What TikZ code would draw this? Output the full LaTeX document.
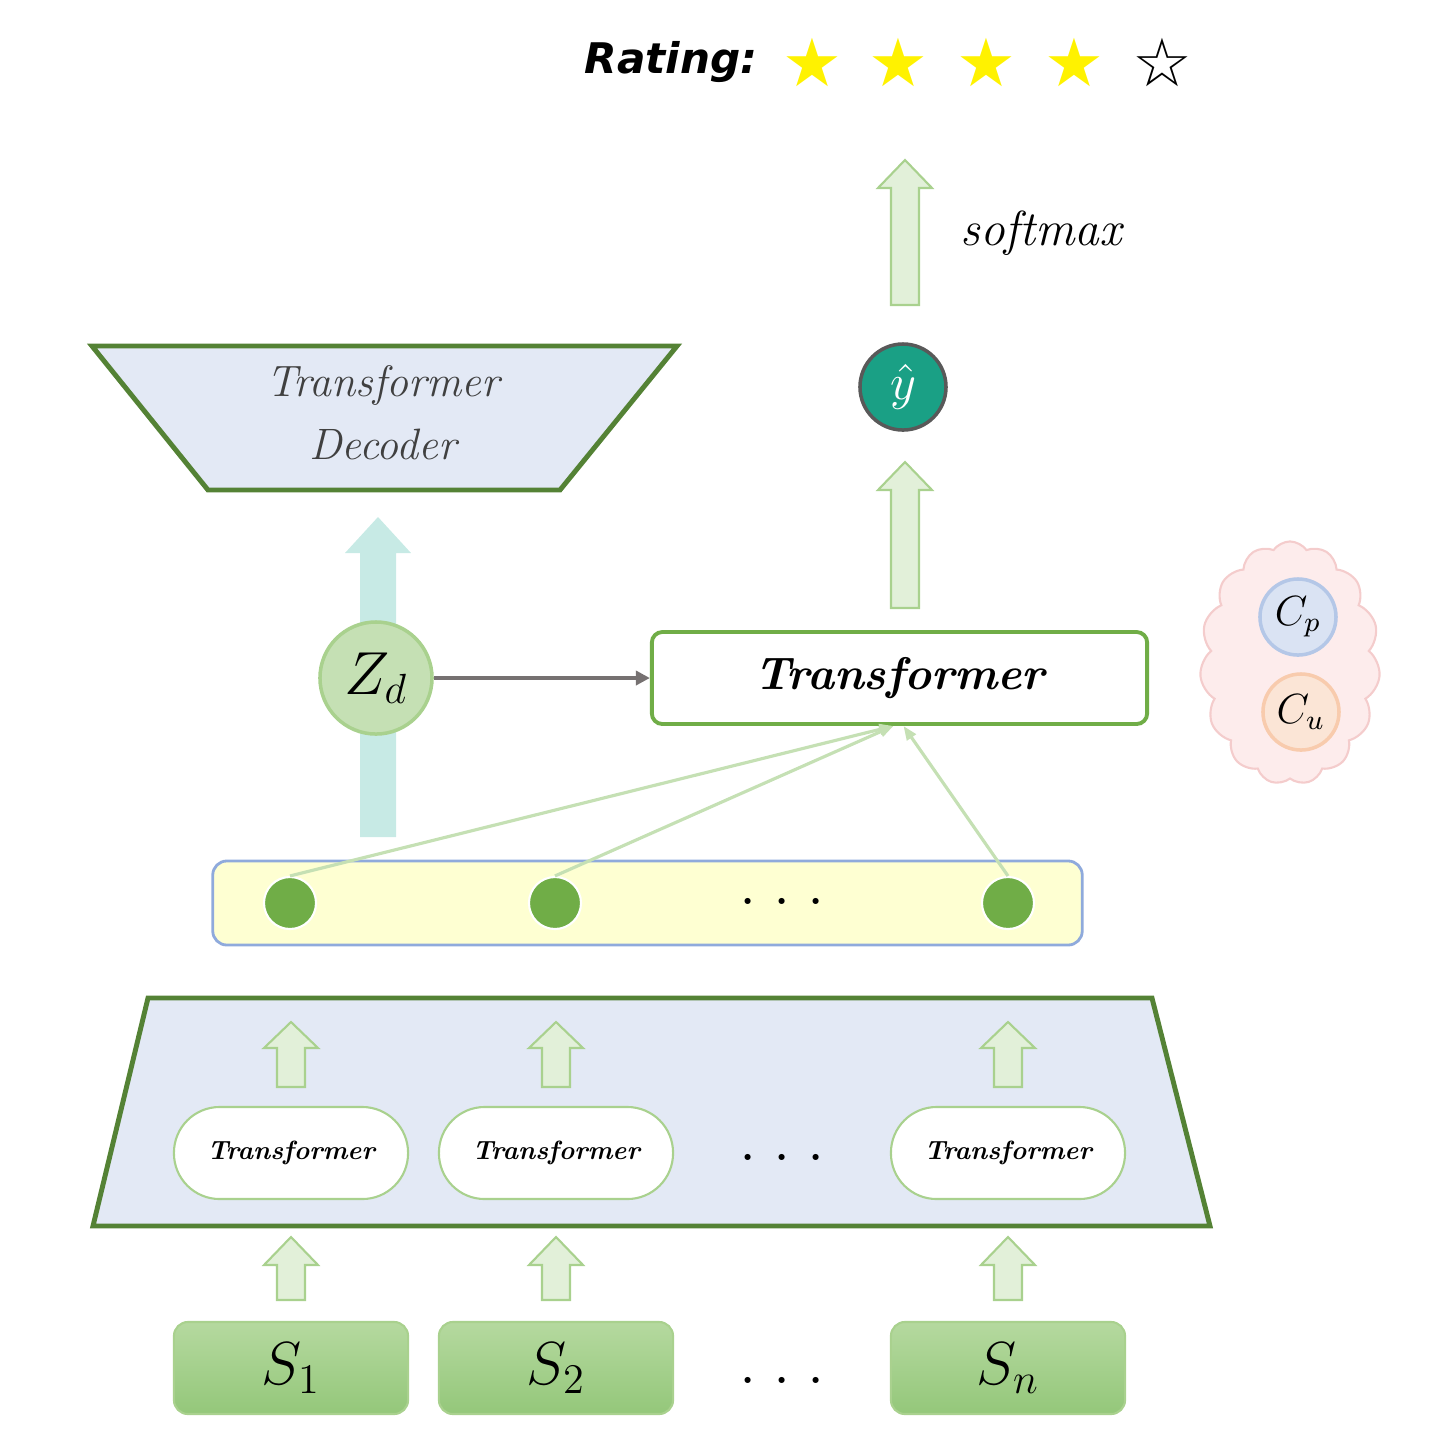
\documentclass[tikz,border=0pt]{standalone}
\usepackage{xcolor}
\usepackage{fontspec}
\usetikzlibrary{shapes.symbols,arrows.meta}
\newfontfamily\ratingfont{DejaVu Sans}
\newfontfamily\starfont{DejaVu Sans}

\definecolor{arrowfill}{HTML}{E2F0D9}
\definecolor{arrowline}{HTML}{A9D18E}
\definecolor{boxgreen}{HTML}{70AD47}
\definecolor{darkgreen}{HTML}{548235}
\definecolor{paleblue}{HTML}{E3E9F5}
\definecolor{yhatfill}{HTML}{1AA085}
\definecolor{zdfill}{HTML}{C5E0B4}
\definecolor{cyanarrow}{HTML}{C7EAE5}
\definecolor{arrowgray}{HTML}{767171}
\definecolor{barfill}{HTML}{FEFFD2}
\definecolor{barline}{HTML}{8FAADC}
\definecolor{attline}{HTML}{C5E0B4}
\definecolor{stopgreen}{HTML}{B5D99F}
\definecolor{sbotgreen}{HTML}{94C77A}
\definecolor{cloudfill}{HTML}{FDECEC}
\definecolor{cloudline}{HTML}{F4CCCC}
\definecolor{cpfill}{HTML}{DAE3F3}
\definecolor{cpline}{HTML}{B4C7E7}
\definecolor{cufill}{HTML}{FBE5D6}
\definecolor{culine}{HTML}{F8CBAD}
\definecolor{staryellow}{HTML}{FFF200}

% block arrow pointing up: style, x, y bottom, y top, half shaft, half head, head length
\newcommand{\upblock}[7][]{%
  \draw[#1] (#2-#5,#3) -- (#2-#5,#4+#7) -- (#2-#6,#4+#7) -- (#2,#4)
    -- (#2+#6,#4+#7) -- (#2+#5,#4+#7) -- (#2+#5,#3) -- cycle;}

\begin{document}
\begin{tikzpicture}[x=0.01cm, y=-0.01cm,
	blockarrow/.style={fill=arrowfill, draw=arrowline, line width=0.6pt},
	pill/.style={rectangle, rounded corners=13pt, draw=arrowline, fill=white, line width=0.6pt,
		minimum width=2.34cm, minimum height=0.92cm, font=\fontsize{7.5}{9}\selectfont\bfseries\itshape},
	sbox/.style={rectangle, rounded corners=4pt, draw=arrowline, line width=0.6pt,
		top color=stopgreen, bottom color=sbotgreen,
		minimum width=2.34cm, minimum height=0.92cm, font=\fontsize{17}{20}\selectfont},
	dot/.style={circle, fill=boxgreen, draw=white, line width=0.6pt, minimum size=0.52cm, inner sep=0pt},
	dots/.style={font=\fontsize{12}{14}\selectfont\bfseries, inner sep=0pt},
	ctx/.style={circle, line width=1pt, minimum size=0.76cm, inner sep=0pt, font=\fontsize{12}{14}\selectfont}]
	\useasboundingbox (0,0) rectangle (1440,1456);
	
	% Rating
	\node[font=\ratingfont\fontsize{12}{15}\selectfont\bfseries\itshape, anchor=east] (rating) at (770,62) {Rating:};
	\foreach \i/\x in {1/812,2/898,3/986,4/1074}
		\node[font=\starfont\fontsize{19}{20}\selectfont, text=staryellow] (star\i) at (\x,62) {★};
	\node[font=\starfont\fontsize{19}{20}\selectfont] (star5) at (1162,62) {☆};
	
	% Output
	\upblock[blockarrow]{905}{305}{160}{14}{27}{28}
	\node[font=\fontsize{14}{16}\selectfont\itshape, anchor=west] (softmax) at (948,233) {softmax};
	\node[circle, fill=yhatfill, draw=black!65, line width=1pt, minimum size=0.86cm, inner sep=0pt,
		font=\fontsize{14}{16}\selectfont, text=white] (yhat) at (903,387) {$\hat{y}$};
	\upblock[blockarrow]{905}{608}{462}{14}{27}{28}
	\node[rectangle, rounded corners=3pt, draw=boxgreen, line width=1.1pt, fill=white,
		minimum width=4.95cm, minimum height=0.92cm,
		font=\fontsize{13}{15}\selectfont\bfseries\itshape] (tb) at (899.5,678) {Transformer};
	
	% Decoder
	\filldraw[fill=paleblue, draw=darkgreen, line width=1.4pt] (92,346) -- (677,346) -- (560,490) -- (208,490) -- cycle;
	\node[align=center, text=black!75, font=\fontsize{12.5}{18}\selectfont\itshape] (dec) at (383,413) {Transformer\\Decoder};
	\upblock[fill=cyanarrow, draw=none]{378}{837}{517}{18}{33}{36}
	\node[circle, fill=zdfill, draw=arrowline, line width=1pt, minimum size=1.12cm, inner sep=0pt,
		font=\fontsize{17}{20}\selectfont] (zd) at (376,678) {$Z_d$};
	\draw[-{Triangle[length=4pt,width=4pt]}, draw=arrowgray, line width=1pt] (zd) -- (tb);
	
	% Sentence vectors
	\node[rectangle, rounded corners=4pt, fill=barfill, draw=barline, line width=0.8pt,
		minimum width=8.69cm, minimum height=0.84cm] (bar) at (647.5,903) {};
	\foreach \i/\x in {1/290,2/555,3/1008}
		\node[dot] (d\i) at (\x,903) {};
	\node[dots] (bardots) at (782,901) {. . .};
	\draw[-{Triangle[length=4pt,width=3pt]}, draw=attline, line width=0.9pt] (d1.north) -- ([xshift=-0.06cm]tb.south);
	\draw[-{Triangle[length=4pt,width=3pt]}, draw=attline, line width=0.9pt] (d2.north) -- ([xshift=-0.06cm]tb.south);
	\draw[-{Triangle[length=4pt,width=3pt]}, draw=attline, line width=0.9pt] (d3.north) -- ([xshift=0.04cm]tb.south);
	
	% Encoder
	\filldraw[fill=paleblue, draw=darkgreen, line width=1.4pt] (148,998) -- (1152,998) -- (1210,1226) -- (93,1226) -- cycle;
	\foreach \i/\x/\lab in {1/291/1,2/556/2,3/1008/n} {
		\upblock[blockarrow]{\x}{1087}{1022}{14}{27}{26}
		\node[pill] (t\i) at (\x,1153) {Transformer};
		\upblock[blockarrow]{\x}{1300}{1237}{14}{27}{28}
		\node[sbox] (s\i) at (\x,1368) {$S_\lab$};
	}
	\node[dots] (pilldots) at (782,1157) {. . .};
	\node[dots] (sdots) at (782,1380) {. . .};
	
	% Context
	\node[cloud, cloud puffs=15, cloud puff arc=110, aspect=0.74, fill=cloudfill, draw=cloudline, line width=0.6pt,
		minimum width=1.8cm, minimum height=2.43cm] (cloud) at (1290,663) {};
	\node[ctx, fill=cpfill, draw=cpline] (cp) at (1298,617) {$C_p$};
	\node[ctx, fill=cufill, draw=culine] (cu) at (1301,712) {$C_u$};
	
\end{tikzpicture}
\end{document}
